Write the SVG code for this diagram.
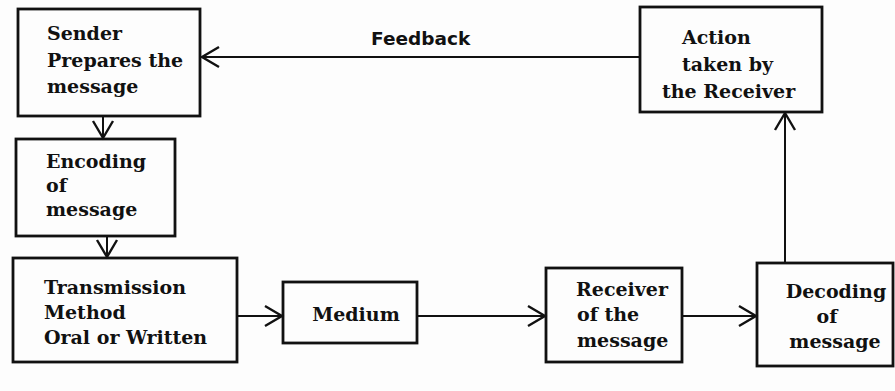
<svg xmlns="http://www.w3.org/2000/svg" width="895" height="391" viewBox="0 0 895 391">
<style>
.box{fill:none;stroke:#111;stroke-width:2.8}
.lbl{font-family:"DejaVu Serif","Liberation Serif",serif;font-weight:bold;font-size:19px;fill:#111}
.c{text-anchor:middle}
.con{stroke:#111;stroke-width:2;fill:none;marker-end:url(#ah)}
.fb{font-family:"DejaVu Sans","Liberation Sans",sans-serif;font-weight:bold;font-size:18.5px;fill:#111}
</style>
<defs>
<marker id="ah" markerUnits="userSpaceOnUse" markerWidth="24" markerHeight="24" viewBox="-20 -12 22 24" refX="0" refY="0" orient="auto">
<path d="M-17,-10 L0,0 L-17,10" fill="none" stroke="#111" stroke-width="2.4"/>
</marker>
</defs>
<rect width="895" height="391" fill="#fdfdfd"/>
<g id="connectors">
<line class="con" x1="640" y1="57" x2="202" y2="57"/>
<line class="con" x1="103" y1="116" x2="103" y2="138"/>
<line class="con" x1="107" y1="236" x2="107" y2="257"/>
<line class="con" x1="237" y1="316" x2="282" y2="316"/>
<line class="con" x1="417" y1="316" x2="545" y2="316"/>
<line class="con" x1="682" y1="316" x2="756" y2="316"/>
<line class="con" x1="785" y1="263" x2="785" y2="113"/>
<text class="fb" x="371" y="45">Feedback</text>
</g>
<g id="sender">
<rect class="box" x="18" y="9" width="182" height="107"/>
<text class="lbl"><tspan x="47" y="40">Sender</tspan><tspan x="47" y="67">Prepares the</tspan><tspan x="47" y="93">message</tspan></text>
</g>
<g id="encoding">
<rect class="box" x="16" y="139" width="159" height="97"/>
<text class="lbl"><tspan x="46" y="168">Encoding</tspan><tspan x="46" y="192">of</tspan><tspan x="46" y="216">message</tspan></text>
</g>
<g id="transmission">
<rect class="box" x="13" y="258" width="224" height="104"/>
<text class="lbl"><tspan x="44" y="294">Transmission</tspan><tspan x="44" y="319">Method</tspan><tspan x="44" y="344">Oral or Written</tspan></text>
</g>
<g id="medium">
<rect class="box" x="283" y="282" width="134" height="61"/>
<text class="lbl" x="356" y="321" text-anchor="middle">Medium</text>
</g>
<g id="receiver">
<rect class="box" x="546" y="268" width="136" height="94"/>
<text class="lbl"><tspan x="576" y="296">Receiver</tspan><tspan x="577" y="321">of the</tspan><tspan x="577" y="347">message</tspan></text>
</g>
<g id="decoding">
<rect class="box" x="757" y="263" width="136" height="103"/>
<text class="lbl c"><tspan x="836" y="298">Decoding</tspan><tspan x="827" y="323">of</tspan><tspan x="835" y="348">message</tspan></text>
</g>
<g id="action">
<rect class="box" x="640" y="7" width="182" height="105"/>
<text class="lbl"><tspan x="682" y="44">Action</tspan><tspan x="682" y="71">taken by</tspan><tspan x="662" y="98">the Receiver</tspan></text>
</g>
</svg>
